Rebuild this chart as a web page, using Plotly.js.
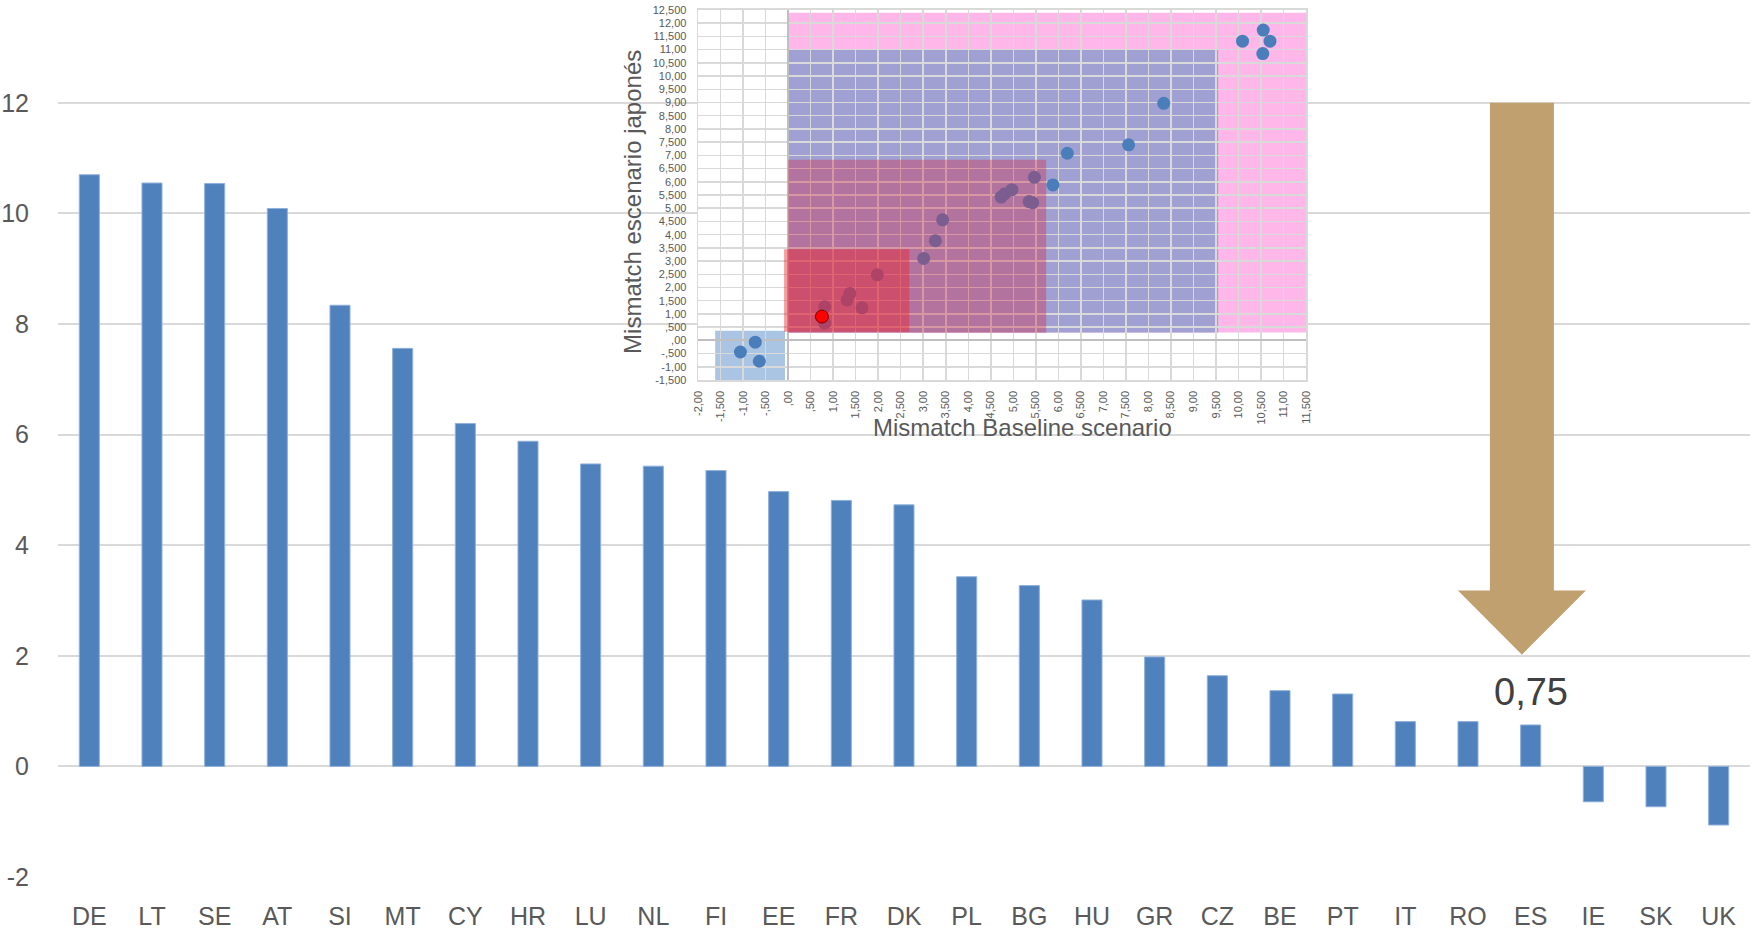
<!DOCTYPE html>
<html><head><meta charset="utf-8">
<script src="https://cdn.plot.ly/plotly-3.0.1.min.js"></script>
<style>html,body{margin:0;padding:0;background:#fff}#chart{width:1753px;height:937px}</style>
</head><body><div id="chart"></div>
<script>
// ---- data ----
const countries = ['DE','LT','SE','AT','SI','MT','CY','HR','LU','NL','FI','EE','FR','DK','PL','BG','HU','GR','CZ','BE','PT','IT','RO','ES','IE','SK','UK'];
const mismatchBaseline = [10.70,10.55,10.54,10.09,8.34,7.56,6.20,5.88,5.47,5.43,5.35,4.97,4.81,4.73,3.43,3.27,3.01,1.98,1.64,1.37,1.31,0.81,0.81,0.75,-0.64,-0.73,-1.06];
const mismatchJapan = [11.32,11.74,10.85,11.32,8.97,7.40,7.08,5.88,6.17,5.21,5.25,5.70,5.55,5.42,4.56,3.77,3.10,2.48,1.23,1.77,1.53,1.27,0.65,0.90,-0.79,-0.07,-0.44];
const highlightCountry = 'ES';

const mainTickVals = [-2,0,2,4,6,8,10,12];
const mainTickText = ['-2','0','2','4','6','8','10','12'];

const insetXTickVals = [-2,-1.5,-1,-0.5,0,0.5,1,1.5,2,2.5,3,3.5,4,4.5,5,5.5,6,6.5,7,7.5,8,8.5,9,9.5,10,10.5,11,11.5];
const insetXTickText = ['-2,00','-1,500','-1,00','-,500',',00',',500','1,00','1,500','2,00','2,500','3,00','3,500','4,00','4,500','5,00','5,500','6,00','6,500','7,00','7,500','8,00','8,500','9,00','9,500','10,00','10,500','11,00','11,500'];
const insetYTickVals = [-1.5,-1,-0.5,0,0.5,1,1.5,2,2.5,3,3.5,4,4.5,5,5.5,6,6.5,7,7.5,8,8.5,9,9.5,10,10.5,11,11.5,12,12.5];
const insetYTickText = ['-1,500','-1,00','-,500',',00',',500','1,00','1,500','2,00','2,500','3,00','3,500','4,00','4,500','5,00','5,500','6,00','6,500','7,00','7,500','8,00','8,500','9,00','9,500','10,00','10,500','11,00','11,500','12,00','12,500'];

// inset zones (in inset data units): [x0, x1, y0, y1]
const zonePink = [0, 11.5, 0.3, 12.4];
const zonePurple = [0, 9.55, 0.3, 11.0];
const zoneNegative = [-1.62, -0.07, -1.6, 0.36];
const zoneMid = [0, 5.73, 0.29, 6.83];
const zoneLow = [-0.09, 2.69, 0.33, 3.45];

// ---- build ----
const hi = countries.indexOf(highlightCountry);
const blueX = [], blueY = [];
countries.forEach((c, i) => { if (i !== hi) { blueX.push(mismatchBaseline[i]); blueY.push(mismatchJapan[i]); } });

function rectTrace(z, color) {
  return {type:'scatter', mode:'none', xaxis:'x2', yaxis:'y2', fill:'toself', fillcolor:color,
    x:[z[0], z[1], z[1], z[0], z[0]], y:[z[2], z[2], z[3], z[3], z[2]], hoverinfo:'skip', showlegend:false};
}
function rectShape(z, color) {
  return {type:'rect', xref:'x2', yref:'y2', x0:z[0], x1:z[1], y0:z[2], y1:z[3], fillcolor:color, line:{width:0}, layer:'below'};
}

const font = 'Liberation Sans, Arial, sans-serif';
const gray = '#595959';

const traces = [
  {type:'bar', x:countries, y:mismatchBaseline, marker:{color:'#4F81BD', line:{color:'#8FB0DA', width:1}}, hoverinfo:'skip', showlegend:false},
  {type:'scatter', mode:'markers', xaxis:'x2', yaxis:'y2', x:blueX, y:blueY, marker:{color:'#4A7EBB', size:13}, showlegend:false, hoverinfo:'skip'},
  rectTrace(zoneMid, 'rgba(210,35,70,0.36)'),
  rectTrace(zoneLow, 'rgba(235,35,50,0.45)'),
  {type:'scatter', mode:'markers', xaxis:'x2', yaxis:'y2', x:[mismatchBaseline[hi]], y:[mismatchJapan[hi]], marker:{color:'#FF0000', size:13, line:{color:'#7a0000', width:1}}, showlegend:false, hoverinfo:'skip'}
];

const cx = 0.8652, sw = 0.0189, hw = 0.0378;
const arrowTop = 12, arrowHead = 3.18, arrowTip = 2.02;
const arrowPath = `M ${cx-sw},${arrowTop} L ${cx+sw},${arrowTop} L ${cx+sw},${arrowHead} L ${cx+hw},${arrowHead} L ${cx},${arrowTip} L ${cx-hw},${arrowHead} L ${cx-sw},${arrowHead} Z`;

const layout = {
  width:1753, height:937,
  margin:{l:58, r:3, t:0, b:60},
  paper_bgcolor:'#fff', plot_bgcolor:'#fff',
  bargap:0.68,
  showlegend:false,
  xaxis:{type:'category', showgrid:false, showline:false, ticks:'', tickfont:{family:font, size:25, color:gray}, ticklabelstandoff:22, fixedrange:true},
  yaxis:{range:[-2,13.86], tickvals:mainTickVals, ticktext:mainTickText, showgrid:true, gridcolor:'#d9d9d9', gridwidth:2,
         zeroline:true, zerolinecolor:'#d9d9d9', zerolinewidth:2, showline:false, ticks:'', tickfont:{family:font, size:25, color:gray}, ticklabelstandoff:28},
  xaxis2:{domain:[0.3783,0.7376], anchor:'y2', range:[-2,11.5], tickmode:'array', tickvals:insetXTickVals, ticktext:insetXTickText, tickangle:-90,
          tickfont:{family:font, size:11, color:gray}, showgrid:true, gridcolor:'#d9d9d9', gridwidth:1.5,
          zeroline:true, zerolinecolor:'#bfbfbf', zerolinewidth:2, showline:true, mirror:true, linecolor:'#d9d9d9', linewidth:1.5, ticks:'', ticklabelstandoff:5},
  yaxis2:{domain:[0.5667,0.9886], anchor:'x2', range:[-1.5,12.5], tickmode:'array', tickvals:insetYTickVals, ticktext:insetYTickText,
          tickfont:{family:font, size:11, color:gray}, showgrid:true, gridcolor:'#d9d9d9', gridwidth:1.5,
          zeroline:true, zerolinecolor:'#bfbfbf', zerolinewidth:2, showline:true, mirror:true, linecolor:'#d9d9d9', linewidth:1.5, ticks:'', ticklabelstandoff:8},
  shapes:[
    rectShape(zonePink, 'rgb(255,182,233)'),
    rectShape(zonePurple, 'rgb(160,160,210)'),
    rectShape(zoneNegative, 'rgb(170,196,228)'),
    {type:'path', xref:'paper', yref:'y', path:arrowPath, fillcolor:'#C0A06E', line:{width:0}, layer:'above'}
  ],
  annotations:[
    {xref:'x', yref:'y', x:highlightCountry, y:mismatchBaseline[hi], yanchor:'bottom', yshift:10, showarrow:false,
     text:mismatchBaseline[hi].toFixed(2).replace('.', ','), font:{family:font, size:38, color:'#404040'}},
    {xref:'paper', yref:'paper', x:0.3398, y:0.9453, textangle:-90, showarrow:false, text:'Mismatch escenario japonés', font:{family:font, size:24, color:gray}},
    {xref:'paper', yref:'paper', x:0.5703, y:0.5131, showarrow:false, text:'Mismatch Baseline scenario', font:{family:font, size:24, color:gray}}
  ]
};

Plotly.newPlot('chart', traces, layout, {displayModeBar:false, staticPlot:true});
</script></body></html>
